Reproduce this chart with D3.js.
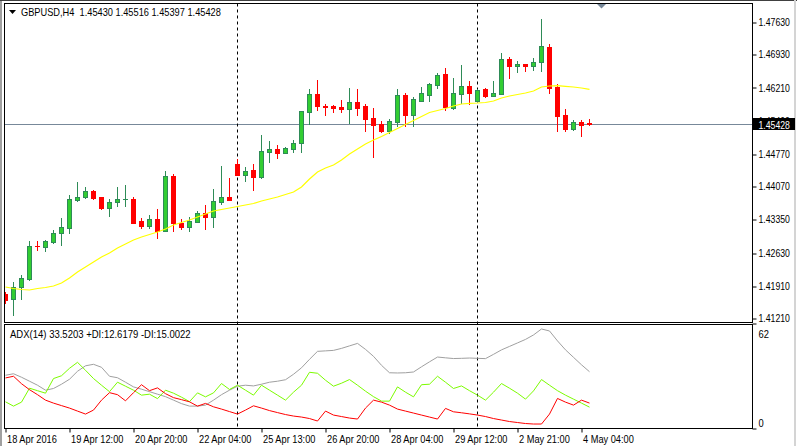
<!DOCTYPE html>
<html><head><meta charset="utf-8">
<script src="https://cdn.jsdelivr.net/npm/d3@7"></script>
<style>html,body{margin:0;padding:0;background:#fff;overflow:hidden}</style>
</head><body><svg id="c" width="797" height="446"></svg>
<script>
const symbol = "GBPUSD,H4";
const open = [1.41731,1.41622,1.41882,1.42056,1.42772,1.42750,1.42858,1.43054,1.43162,1.43769,
 1.43834,1.43965,1.43834,1.43596,1.43726,1.43791,1.43791,1.43314,1.43205,1.43357,
 1.43097,1.44290,1.43271,1.43184,1.43292,1.43487,1.43401,1.43726,1.43834,1.44550,
 1.44312,1.44420,1.44268,1.44810,1.44875,1.44789,1.44875,1.45006,1.45678,1.46068,
 1.45808,1.45808,1.45786,1.45743,1.45895,1.45808,1.45548,1.45418,1.45266,1.45461,
 1.46047,1.45613,1.45917,1.46047,1.46264,1.46502,1.45765,1.46068,1.46242,1.45917,
 1.46177,1.46025,1.46068,1.46828,1.46676,1.46719,1.46676,1.46762,1.47088,1.46220,
 1.45613,1.45309,1.45461,1.45430];
const high = [1.41774,1.41991,1.42143,1.42880,1.42880,1.42902,1.43119,1.43379,1.43878,1.44160,
 1.44051,1.43986,1.43840,1.43791,1.44051,1.44095,1.43834,1.43379,1.43444,1.43574,
 1.44398,1.44333,1.43357,1.43401,1.43531,1.43661,1.44008,1.44507,1.44247,1.44659,
 1.44485,1.44550,1.45179,1.45049,1.44962,1.44919,1.45071,1.45705,1.46177,1.46372,
 1.45851,1.45830,1.45938,1.46199,1.46177,1.45851,1.45765,1.45483,1.45526,1.46177,
 1.46090,1.46003,1.46220,1.46307,1.46524,1.46632,1.46415,1.46697,1.46350,1.46177,
 1.46199,1.46350,1.46958,1.46871,1.46784,1.46725,1.46849,1.47695,1.47153,1.46285,
 1.45743,1.45504,1.45504,1.45516];
const low = [1.41535,1.41275,1.41622,1.42034,1.42685,1.42663,1.42840,1.42793,1.43054,1.43748,
 1.43813,1.43791,1.43574,1.43422,1.43639,1.43639,1.43260,1.43162,1.43162,1.42945,
 1.43090,1.43097,1.43140,1.43097,1.43285,1.43140,1.43184,1.43683,1.43760,1.44305,
 1.44181,1.43986,1.44247,1.44594,1.44680,1.44780,1.44810,1.44810,1.45418,1.45721,
 1.45613,1.45678,1.45678,1.45439,1.45613,1.45266,1.44702,1.45244,1.45223,1.45374,
 1.45374,1.45374,1.45910,1.45917,1.46199,1.45721,1.45743,1.45873,1.45851,1.45910,
 1.46003,1.46020,1.46060,1.46415,1.46546,1.46567,1.46589,1.46567,1.46090,1.45266,
 1.45266,1.45288,1.45157,1.45397];
const close = [1.41600,1.41882,1.42078,1.42772,1.42761,1.42880,1.43054,1.43184,1.43791,1.43834,
 1.43965,1.43813,1.43596,1.43726,1.43791,1.43795,1.43271,1.43205,1.43357,1.43097,
 1.44290,1.43271,1.43184,1.43314,1.43487,1.43401,1.43748,1.43834,1.43769,1.44312,
 1.44398,1.44268,1.44832,1.44875,1.44789,1.44897,1.45006,1.45700,1.46068,1.45808,
 1.45797,1.45765,1.45743,1.45895,1.45765,1.45526,1.45396,1.45266,1.45483,1.46047,
 1.45613,1.45960,1.46090,1.46285,1.46480,1.45786,1.46090,1.46242,1.46090,1.46155,
 1.46025,1.46090,1.46828,1.46676,1.46719,1.46676,1.46762,1.47109,1.46199,1.45591,
 1.45309,1.45461,1.45396,1.45428];
const ma = [1.41882,1.41850,1.41828,1.41817,1.41850,1.41872,1.41904,1.41969,1.42078,1.42208,
 1.42316,1.42425,1.42533,1.42620,1.42728,1.42815,1.42902,1.42967,1.43021,1.43075,
 1.43140,1.43227,1.43281,1.43336,1.43401,1.43466,1.43531,1.43563,1.43596,1.43628,
 1.43661,1.43693,1.43748,1.43791,1.43834,1.43889,1.43943,1.44051,1.44225,1.44377,
 1.44463,1.44528,1.44637,1.44767,1.44875,1.44984,1.45071,1.45147,1.45233,1.45320,
 1.45407,1.45494,1.45580,1.45667,1.45711,1.45754,1.45808,1.45851,1.45867,1.45873,
 1.45884,1.45917,1.45982,1.46025,1.46058,1.46090,1.46133,1.46220,1.46242,1.46248,
 1.46235,1.46220,1.46199,1.46170];
const adx = [31.44,32.32,30.27,27.92,25.56,22.63,23.62,26.15,29.09,33.79,
 37.02,37.91,36.14,30.85,29.97,27.33,24.57,23.21,21.74,20.27,
 18.81,16.75,14.69,13.22,13.22,13.81,16.75,19.98,22.63,24.98,
 25.56,25.15,26.15,27.33,27.92,28.80,32.03,35.85,40.84,45.55,
 45.84,46.13,47.31,48.78,50.25,46.72,42.61,37.32,32.91,32.79,
 32.91,33.38,36.44,39.37,42.20,41.73,41.31,41.43,41.61,41.43,
 41.26,43.78,46.43,48.48,50.54,52.60,55.24,58.77,57.59,51.72,
 46.43,42.02,37.61,33.5203];
const plusDI = [15.75,13.22,15.57,23.80,22.33,20.86,29.50,31.15,35.55,39.08,
 34.38,29.50,25.56,21.74,27.33,24.98,22.63,19.69,20.27,17.63,
 22.63,20.86,18.51,15.87,21.04,18.69,21.04,26.56,23.04,25.56,
 22.63,19.69,25.56,22.63,19.69,16.75,21.45,25.56,33.20,32.62,
 28.50,24.98,26.74,28.91,25.56,22.04,18.81,16.16,16.16,24.57,
 21.45,18.69,25.86,26.15,30.85,27.33,23.62,25.15,22.33,19.69,
 16.75,21.45,26.56,23.80,20.86,17.34,22.21,28.91,25.56,22.33,
 19.69,17.34,14.99,12.6179];
const minusDI = [29.85,30.85,26.45,22.92,19.98,16.75,14.99,13.52,12.05,10.28,
 8.52,10.87,16.75,21.16,19.98,16.34,21.16,25.86,22.33,23.98,
 20.57,18.22,17.04,15.75,13.22,14.81,12.81,11.46,9.99,8.52,
 10.87,13.40,12.05,10.58,9.40,8.23,7.35,6.76,5.88,4.41,
 10.28,7.93,7.05,6.17,5.58,12.05,16.75,15.57,13.81,11.46,
 10.28,9.11,7.93,6.76,5.58,11.87,9.87,9.29,8.64,7.93,
 7.05,5.88,5.00,4.11,3.53,2.94,2.64,2.64,8.52,17.75,
 15.57,13.81,16.75,15.0022];
const priceTicks = [1.4763,1.4693,1.4621,1.4549,1.4477,1.4407,1.4335,1.4263,1.4191,1.4121];
const adxTicks = [62, 0];
const xTickIndex = [0,8,16,24,32,40,48,56,64,72];
const xTickLabels = ["18 Apr 2016","19 Apr 12:00","20 Apr 20:00","22 Apr 04:00","25 Apr 13:00","26 Apr 20:00","28 Apr 04:00","29 Apr 12:00","2 May 21:00","4 May 04:00"];
const separatorIndex = [29, 59];

const FONT = "'Liberation Sans', Arial, sans-serif";
const svg = d3.select("#c");
const L = 4.5, R = 752.5, T1 = 3.5, B1 = 322.5, T2 = 324.5, B2 = 428.5;
const n = open.length;
const x = d3.scaleLinear().domain([0, n - 1]).range([5.5, 5.5 + 8 * (n - 1)]);
const y = d3.scaleLinear().domain([1.4121, 1.4763]).range([318, 22]);
const ya = d3.scaleLinear().domain([0, 62]).range([428.5, 323.5]);
const py = v => Math.round(y(v)) + 0.5;
const f5 = d3.format(".5f"), f4 = d3.format(".4f");

function fit(sel, k) {
  sel.each(function () {
    const w = this.getComputedTextLength();
    this.setAttribute("textLength", w * k);
    this.setAttribute("lengthAdjust", "spacingAndGlyphs");
  });
}

svg.append("rect").attr("width", 797).attr("height", 446).attr("fill", "#fff");
// window frame
svg.append("rect").attr("x", 0).attr("y", 0).attr("width", 2).attr("height", 446).attr("fill", "#a0a0a0");
svg.append("line").attr("x1", 0).attr("x2", 797).attr("y1", 0.5).attr("y2", 0.5).attr("stroke", "#404040");
svg.append("rect").attr("x", 794).attr("y", 0).attr("width", 2).attr("height", 446).attr("fill", "#d4d4d4");

const defs = svg.append("defs");
defs.append("clipPath").attr("id", "cm").append("rect").attr("x", L + 0.5).attr("y", T1 + 0.5).attr("width", R - L - 1).attr("height", B1 - T1 - 1);
defs.append("clipPath").attr("id", "ca").append("rect").attr("x", L + 0.5).attr("y", T2 + 0.5).attr("width", R - L - 1).attr("height", B2 - T2 - 1);

// current price line
const last = close[n - 1];
svg.append("line").attr("x1", L).attr("x2", R).attr("y1", py(last)).attr("y2", py(last))
  .attr("stroke", "#778899").attr("stroke-width", 1);

// separators
svg.append("g").selectAll("line").data(separatorIndex).join("line")
  .attr("x1", d => x(d)).attr("x2", d => x(d)).attr("y1", T1).attr("y2", B2)
  .attr("stroke", "#000").attr("stroke-width", 1).attr("stroke-dasharray", "3,3");

// candles
const bars = d3.range(n).map(i => ({ i, o: open[i], h: high[i], l: low[i], c: close[i] }));
const gm = svg.append("g").attr("clip-path", "url(#cm)");
const colUp = "#32cd32", edgeUp = "#2e8b57", colDn = "#ff0000";
gm.selectAll("line.wick").data(bars).join("line").attr("class", "wick")
  .attr("x1", d => x(d.i)).attr("x2", d => x(d.i))
  .attr("y1", d => py(d.h) - 0.5).attr("y2", d => py(d.l) + 0.5)
  .attr("stroke", d => d.c >= d.o ? edgeUp : colDn).attr("stroke-width", 1);
bars.forEach(d => {
  const t = Math.min(py(d.o), py(d.c)), b = Math.max(py(d.o), py(d.c));
  const up = d.c >= d.o;
  if (b - t < 1) {
    gm.append("line").attr("x1", x(d.i) - 2.5).attr("x2", x(d.i) + 2.5).attr("y1", t).attr("y2", t)
      .attr("stroke", up ? edgeUp : colDn).attr("stroke-width", 1);
  } else {
    gm.append("rect").attr("x", x(d.i) - 2).attr("y", t).attr("width", 4).attr("height", b - t)
      .attr("fill", up ? colUp : colDn).attr("stroke", up ? edgeUp : colDn).attr("stroke-width", 1);
  }
});
// moving average
gm.append("path").datum(ma).attr("fill", "none").attr("stroke", "#ffff00").attr("stroke-width", 1.2)
  .attr("d", d3.line().x((d, i) => x(i)).y(d => y(d)));

// ADX lines
const ga = svg.append("g").attr("clip-path", "url(#ca)");
[[adx, "#a0a0a0"], [plusDI, "#7cfc00"], [minusDI, "#ff0000"]].forEach(([arr, col]) => {
  ga.append("path").datum(arr).attr("fill", "none").attr("stroke", col).attr("stroke-width", 1)
    .attr("d", d3.line().x((d, i) => x(i)).y(d => ya(d)));
});

// panel borders
svg.append("rect").attr("x", L).attr("y", T1).attr("width", R - L).attr("height", B1 - T1).attr("fill", "none").attr("stroke", "#000");
svg.append("rect").attr("x", L).attr("y", T2).attr("width", R - L).attr("height", B2 - T2).attr("fill", "none").attr("stroke", "#000");

// price axis
const ay = svg.append("g").attr("transform", `translate(${R},0)`)
  .call(d3.axisRight(y).tickValues(priceTicks).tickFormat(f5).tickSize(4).tickPadding(2));
ay.select(".domain").remove();
ay.selectAll("line").attr("transform", d => `translate(0,${py(d) - y(d)})`);
ay.selectAll("text").attr("font-family", FONT).attr("font-size", 11).attr("fill", "#000").call(fit, 0.79);

// current price label
svg.append("rect").attr("x", 753).attr("y", py(last) - 6.5).attr("width", 42).attr("height", 12).attr("fill", "#000");
svg.append("text").attr("x", 758.5).attr("y", py(last) + 4).attr("font-family", FONT).attr("font-size", 11)
  .attr("fill", "#fff").text(f5(last)).call(fit, 0.79);

// ADX axis
const aa = svg.append("g").attr("transform", `translate(${R},0)`)
  .call(d3.axisRight(ya).tickValues(adxTicks).tickSize(4).tickPadding(2));
aa.select(".domain").remove();
aa.selectAll("text").attr("font-family", FONT).attr("font-size", 11).attr("fill", "#000")
  .attr("y", d => d === adxTicks[0] ? 10 : -6).call(fit, 0.85);

// time axis
const ax = svg.append("g").attr("transform", `translate(0,${B2})`)
  .call(d3.axisBottom(x).tickValues(xTickIndex).tickFormat((d, i) => xTickLabels[i]).tickSize(4));
ax.select(".domain").remove();
ax.selectAll("text").attr("font-family", FONT).attr("font-size", 11).attr("fill", "#000")
  .attr("text-anchor", "start").attr("x", 1).attr("y", 14).attr("dy", 0).call(fit, 0.84);

// title
svg.append("path").attr("d", "M9,10 L16,10 L12.5,14 Z").attr("fill", "#000");
svg.append("text").attr("x", 21).attr("y", 16).attr("font-family", FONT).attr("font-size", 11)
  .style("white-space", "pre")
  .text(`${symbol}  ${f5(open[n - 1])} ${f5(high[n - 1])} ${f5(low[n - 1])} ${f5(close[n - 1])}`)
  .call(fit, 0.84);
// chart shift marker
svg.append("path").attr("d", "M597,4 L606,4 L601.5,8.5 Z").attr("fill", "#778899");

// ADX label
svg.append("text").attr("x", 10).attr("y", 338).attr("font-family", FONT).attr("font-size", 11)
  .text(`ADX(14) ${f4(adx[n - 1])} +DI:${f4(plusDI[n - 1])} -DI:${f4(minusDI[n - 1])}`)
  .call(fit, 0.865);
</script></body></html>
